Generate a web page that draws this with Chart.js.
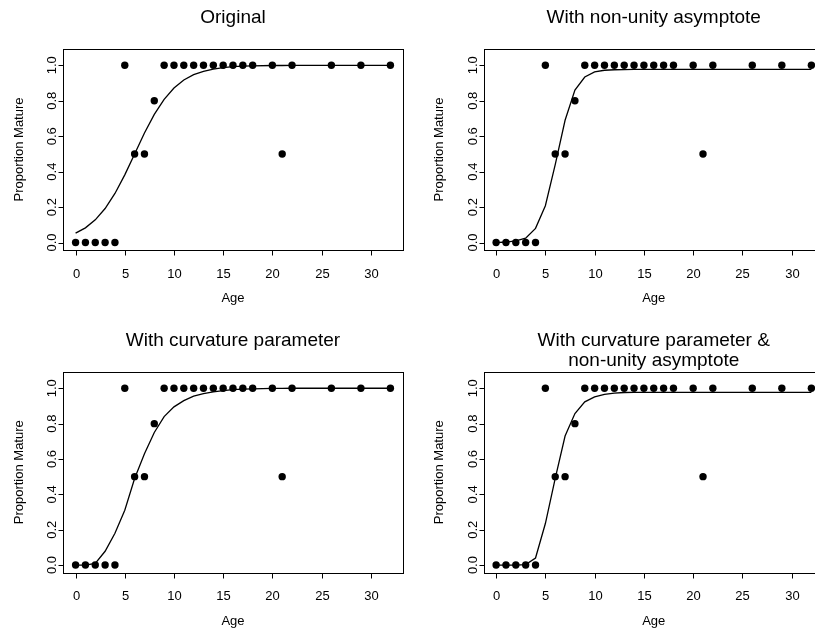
<!DOCTYPE html>
<html>
<head>
<meta charset="utf-8">
<script src="https://cdn.jsdelivr.net/npm/chart.js@4.4.1/dist/chart.umd.min.js"></script>
<style>
    html, body { margin: 0; padding: 0; background: #fff; overflow: hidden; width: 815px; height: 633px; }
    .panel { position: absolute; }
</style>
</head>
<body>
<canvas id="p1" class="panel" width="408" height="316" style="left:0;top:0"></canvas>
<canvas id="p2" class="panel" width="420" height="316" style="left:408px;top:0"></canvas>
<canvas id="p3" class="panel" width="408" height="317" style="left:0;top:316px"></canvas>
<canvas id="p4" class="panel" width="420" height="317" style="left:408px;top:316px"></canvas>
<script>
// observed data
const ages = [0, 1, 2, 3, 4, 5, 6, 7, 8, 9, 10, 11, 12, 13, 14, 15, 16, 17, 18, 20, 21, 22, 26, 29, 32];
const observed = [0, 0, 0, 0, 0, 1, 0.5, 0.5, 0.8, 1, 1, 1, 1, 1, 1, 1, 1, 1, 1, 1, 0.5, 1, 1, 1, 1];

// fitted curves (one value per age)
const fitOriginal = [0.053, 0.083, 0.128, 0.192, 0.277, 0.382, 0.5, 0.618, 0.723, 0.808, 0.872, 0.917, 0.947,
    0.966, 0.979, 0.987, 0.992, 0.995, 0.997, 0.999, 0.999, 1, 1, 1, 1];
const fitAsymptote = [0, 0.003, 0.01, 0.025, 0.08, 0.208, 0.44, 0.69, 0.86, 0.934, 0.963, 0.972, 0.975,
    0.976, 0.977, 0.977, 0.977, 0.977, 0.977, 0.977, 0.977, 0.977, 0.977, 0.977, 0.977];
const fitCurvature = [0, 0, 0.01, 0.078, 0.18, 0.31, 0.49, 0.63, 0.75, 0.84, 0.895, 0.93, 0.955,
    0.97, 0.98, 0.987, 0.992, 0.995, 0.997, 0.999, 0.999, 1, 1, 1, 1];
const fitBoth = [0, 0, 0, 0.003, 0.04, 0.235, 0.49, 0.73, 0.857, 0.923, 0.951, 0.966, 0.973,
    0.976, 0.977, 0.977, 0.977, 0.977, 0.977, 0.977, 0.977, 0.977, 0.977, 0.977, 0.977];

const xTicks = [0, 5, 10, 15, 20, 25, 30];
const yTicks = [0, 0.2, 0.4, 0.6, 0.8, 1];
const yTickLabels = ['0.0', '0.2', '0.4', '0.6', '0.8', '1.0'];

const FONT = '"Liberation Sans", Arial, Helvetica, sans-serif';

// R-style frame, ticks, labels and title
const rFrame = {
    id: 'rFrame',
    afterDraw(chart, args, opts) {
        const { ctx, chartArea: a, scales: { x, y } } = chart;
        const L = Math.round(a.left) + 0.5, R = Math.round(a.right) + 0.5;
        const T = Math.round(a.top) + 0.5, B = Math.round(a.bottom) + 0.5;
        ctx.save();
        ctx.strokeStyle = '#000';
        ctx.fillStyle = '#000';
        ctx.lineWidth = 1;
        ctx.strokeRect(L, T, R - L, B - T);

        ctx.font = '13px ' + FONT;
        ctx.textAlign = 'center';
        ctx.textBaseline = 'alphabetic';
        ctx.beginPath();
        xTicks.forEach(v => {
            const px = Math.round(x.getPixelForValue(v)) + 0.5;
            ctx.moveTo(px, B);
            ctx.lineTo(px, B + 5);
            ctx.fillText(String(v), px, a.bottom + opts.xLabelGap);
        });
        yTicks.forEach(v => {
            const py = Math.round(y.getPixelForValue(v)) + 0.5;
            ctx.moveTo(L, py);
            ctx.lineTo(L - 5, py);
        });
        ctx.stroke();

        yTicks.forEach((v, i) => {
            const py = y.getPixelForValue(v);
            ctx.save();
            ctx.translate(a.left - 7, py);
            ctx.rotate(-Math.PI / 2);
            ctx.fillText(yTickLabels[i], 0, 0);
            ctx.restore();
        });

        const cx = (a.left + a.right) / 2;
        ctx.fillText('Age', cx, a.bottom + opts.ageGap);
        ctx.save();
        ctx.translate(a.left - 40.5, (a.top + a.bottom) / 2);
        ctx.rotate(-Math.PI / 2);
        ctx.fillText('Proportion Mature', 0, 0);
        ctx.restore();

        ctx.font = '19px ' + FONT;
        opts.title.forEach((line, i) => {
            ctx.fillText(line, cx, a.top - 26 + i * 20);
        });
        ctx.restore();
    }
};

function toPoints(vals) {
    return ages.map((a, i) => ({ x: a, y: vals[i] }));
}

function drawPanel(id, title, fit, padding, xLabelGap, ageGap) {
    new Chart(document.getElementById(id), {
        type: 'scatter',
        data: {
            datasets: [
                {
                    data: toPoints(observed),
                    pointRadius: 3.7,
                    pointBackgroundColor: '#000',
                    pointBorderWidth: 0,
                },
                {
                    type: 'line',
                    data: toPoints(fit),
                    borderColor: '#000',
                    borderWidth: 1.3,
                    pointRadius: 0,
                    tension: 0,
                    fill: false,
                }
            ]
        },
        options: {
            responsive: false,
            animation: false,
            layout: { padding: padding },
            scales: {
                x: { type: 'linear', min: -1.28, max: 33.28, display: false },
                y: { type: 'linear', min: -0.042, max: 1.092, display: false },
            },
            plugins: {
                legend: { display: false },
                tooltip: { enabled: false },
                rFrame: { title: title, xLabelGap: xLabelGap, ageGap: ageGap },
            },
        },
        plugins: [rFrame],
    });
}

drawPanel('p1', ['Original'], fitOriginal, { left: 63, right: 5, top: 49, bottom: 66 }, 27.5, 52);
drawPanel('p2', ['With non-unity asymptote'], fitAsymptote, { left: 75.5, right: 4, top: 49, bottom: 66 }, 27.5, 52);
drawPanel('p3', ['With curvature parameter'], fitCurvature, { left: 63, right: 5, top: 56, bottom: 60.5 }, 27, 52);
drawPanel('p4', ['With curvature parameter &', 'non-unity asymptote'], fitBoth, { left: 75.5, right: 4, top: 56, bottom: 60.5 }, 27, 52);
</script>
</body>
</html>
